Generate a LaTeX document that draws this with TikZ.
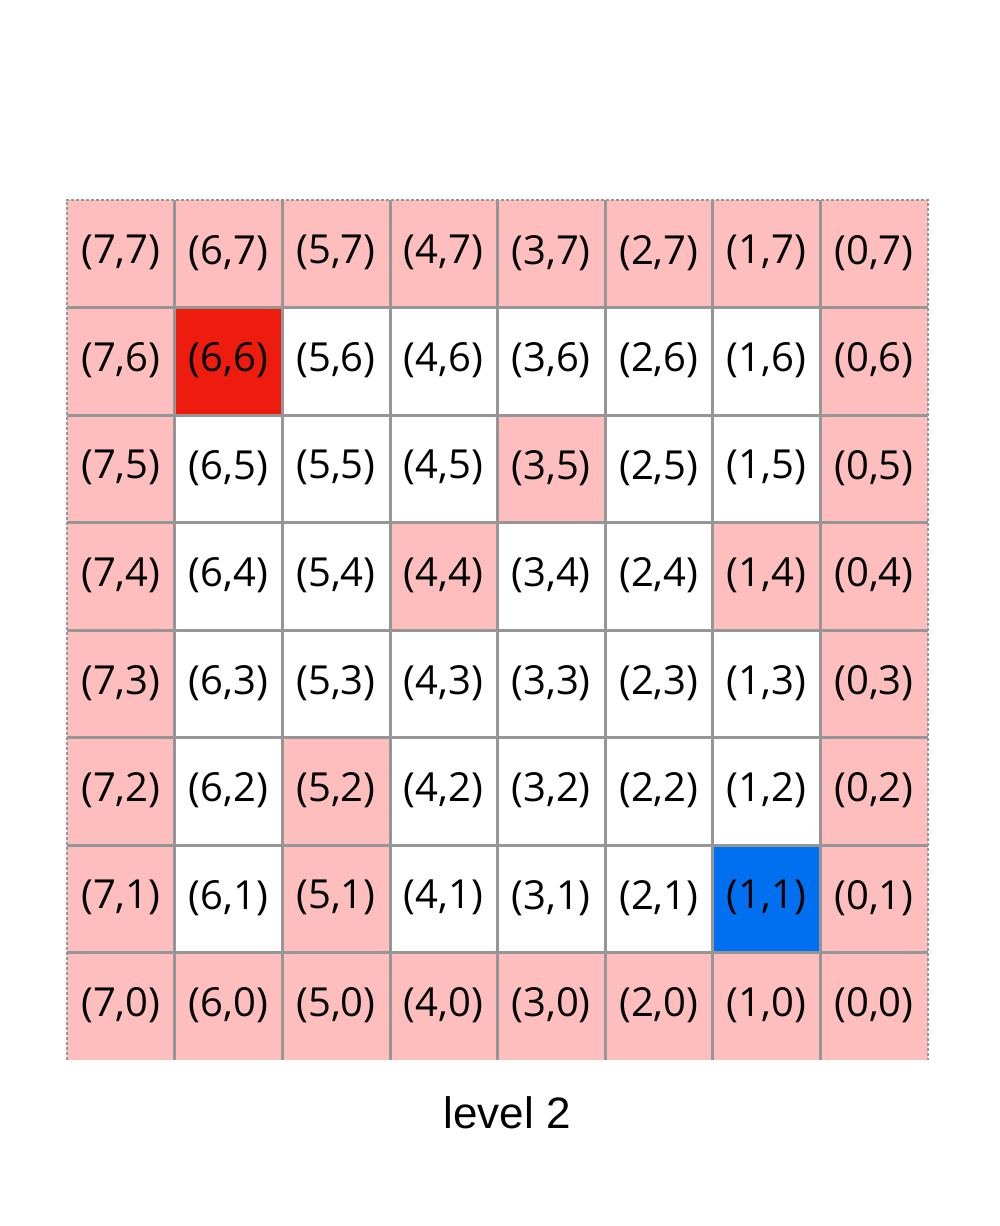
\documentclass[tikz,border=0pt]{standalone}
\usepackage{fontspec}
\setmainfont{Open Sans}
\newfontfamily\capfont{Liberation Sans}
\definecolor{pinkc}{RGB}{255,190,190}
\definecolor{redc}{RGB}{238,28,14}
\definecolor{bluec}{RGB}{0,112,240}
\definecolor{gridc}{RGB}{150,150,150}
\tikzset{
  cell/.style={minimum width=107.6pt, minimum height=107.5pt, inner sep=0pt, anchor=center, font=\fontsize{40}{46}\selectfont},
  wall/.style={cell, fill=pinkc},
  startc/.style={cell, fill=redc},
  goalc/.style={cell, fill=bluec},
  gridline/.style={draw=gridc, line width=3pt},
  outerline/.style={draw=gridc, line width=1.5pt, dash pattern=on 3pt off 2pt},
  caption/.style={font=\capfont\fontsize{44}{50}\selectfont}
}
\begin{document}
\begin{tikzpicture}[x=1pt,y=-1pt]
\useasboundingbox (0,0) rectangle (1000,1226);
\fill[white] (0,0) rectangle (1000,1226);
\foreach \c in {0,...,7}{
  \foreach \r in {0,...,7}{
    \pgfmathtruncatemacro{\lx}{7-\c}
    \pgfmathtruncatemacro{\ly}{7-\r}
    \def\sty{cell}
    \ifnum\c=0 \def\sty{wall}\fi
    \ifnum\c=7 \def\sty{wall}\fi
    \ifnum\r=0 \def\sty{wall}\fi
    \ifnum\r=7 \def\sty{wall}\fi
    \ifnum\lx=3 \ifnum\ly=5 \def\sty{wall}\fi\fi
    \ifnum\lx=4 \ifnum\ly=4 \def\sty{wall}\fi\fi
    \ifnum\lx=1 \ifnum\ly=4 \def\sty{wall}\fi\fi
    \ifnum\lx=5 \ifnum\ly=2 \def\sty{wall}\fi\fi
    \ifnum\lx=5 \ifnum\ly=1 \def\sty{wall}\fi\fi
    \ifnum\lx=6 \ifnum\ly=6 \def\sty{startc}\fi\fi
    \ifnum\lx=1 \ifnum\ly=1 \def\sty{goalc}\fi\fi
    \node[\sty] (n\lx\ly) at ({67+107.6*(\c+0.5)},{200+107.5*(\r+0.5)}) {};
  }
}
% internal vertical lines
\foreach \lx in {1,...,7}{
  \draw[gridline] (n\lx7.north east) -- (n\lx0.south east);
}
% internal horizontal lines
\foreach \ly in {1,...,7}{
  \draw[gridline] (n7\ly.south west) -- (n0\ly.south east);
}
% outer dashed border
\draw[outerline] (n70.south west) -- (n77.north west) -- (n07.north east) -- (n00.south east);
% labels
\foreach \lx in {0,...,7}{
  \foreach \ly in {0,...,7}{
    \node[cell] (t\lx\ly) at ([yshift=1pt]n\lx\ly) {(\lx,\ly)};
  }
}
\node[caption] (cap) at (507,1113) {level 2};
\end{tikzpicture}
\end{document}
